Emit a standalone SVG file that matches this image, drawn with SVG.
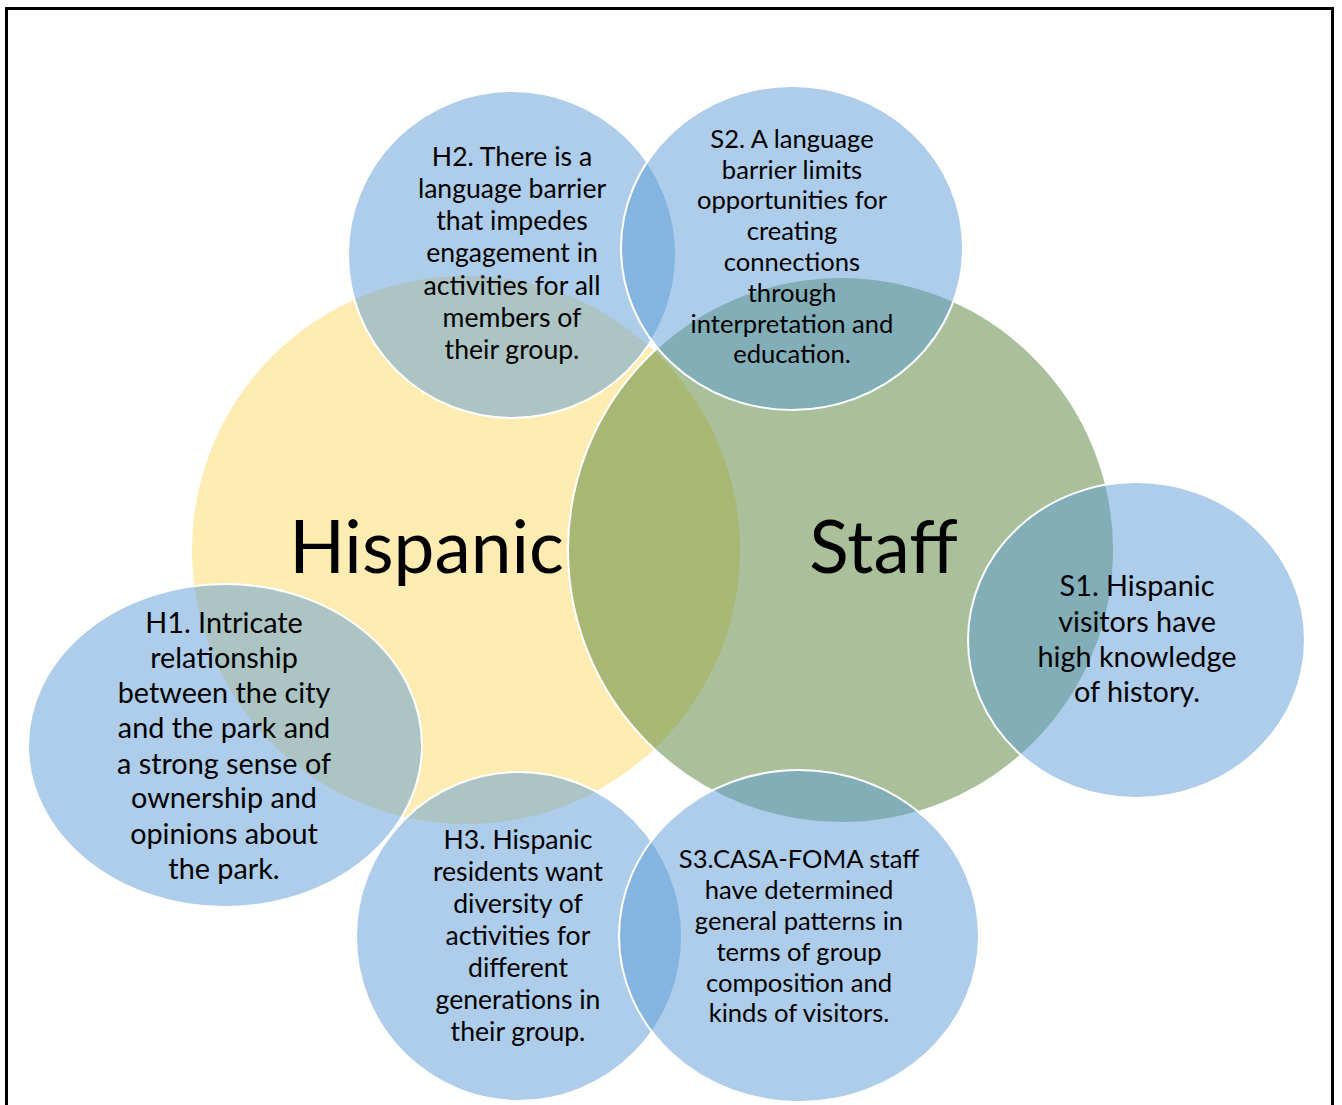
<svg xmlns="http://www.w3.org/2000/svg" width="1342" height="1105" viewBox="0 0 1342 1105">
<style>
.bg{fill:#ffffff}
.frame{fill:none;stroke:#000000;stroke-width:3}
.big-h{fill:#FFD966;fill-opacity:0.5}
.big-s{fill:#548235;fill-opacity:0.5;stroke:#ffffff;stroke-width:2}
.bub{fill:#5B9BD5;fill-opacity:0.5;stroke:#ffffff;stroke-width:2}
.t{font-family:Lato,"Liberation Sans",sans-serif;fill:#000000;text-anchor:middle}
.title{font-size:73px}
.s26{font-size:26.6px}
.s25{font-size:25.6px}
.s28{font-size:28.8px}
</style>
<rect class="bg" x="0" y="0" width="1342" height="1105"/>
<rect class="frame" x="6.5" y="8.5" width="1326" height="1110"/>
<g id="hispanic">
<circle class="big-h" cx="466" cy="550" r="274"/>
</g>
<g id="staff">
<circle class="big-s" cx="841" cy="550" r="273"/>
</g>
<g id="connectors"></g>
<g id="h2">
<ellipse class="bub" cx="512" cy="254.5" rx="164" ry="163.5"/>
<text class="t s26"><tspan x="512" y="166">H2. There is a</tspan><tspan x="512" y="198">language barrier</tspan><tspan x="512" y="230">that impedes</tspan><tspan x="512" y="262">engagement in</tspan><tspan x="512" y="295">activities for all</tspan><tspan x="512" y="327">members of</tspan><tspan x="512" y="359">their group.</tspan></text>
</g>
<g id="s2">
<ellipse class="bub" cx="792" cy="248" rx="171" ry="162"/>
<text class="t s25"><tspan x="792" y="148">S2. A language</tspan><tspan x="792" y="179">barrier limits</tspan><tspan x="792" y="209">opportunities for</tspan><tspan x="792" y="240">creating</tspan><tspan x="792" y="271">connections</tspan><tspan x="792" y="302">through</tspan><tspan x="792" y="333">interpretation and</tspan><tspan x="792" y="363">education.</tspan></text>
</g>
<g id="s1">
<ellipse class="bub" cx="1136.5" cy="640" rx="168.5" ry="158"/>
<text class="t s28"><tspan x="1137" y="596">S1. Hispanic</tspan><tspan x="1137" y="632">visitors have</tspan><tspan x="1137" y="667">high knowledge</tspan><tspan x="1137" y="702">of history.</tspan></text>
</g>
<g id="h1">
<ellipse class="bub" cx="225" cy="745.5" rx="197" ry="161.5"/>
<text class="t s28"><tspan x="224" y="633">H1. Intricate</tspan><tspan x="224" y="668">relationship</tspan><tspan x="224" y="703">between the city</tspan><tspan x="224" y="738">and the park and</tspan><tspan x="224" y="774">a strong sense of</tspan><tspan x="224" y="808">ownership and</tspan><tspan x="224" y="844">opinions about</tspan><tspan x="224" y="879">the park.</tspan></text>
</g>
<g id="h3">
<ellipse class="bub" cx="519" cy="936.5" rx="163" ry="164.5"/>
<text class="t s26"><tspan x="518" y="849">H3. Hispanic</tspan><tspan x="518" y="881">residents want</tspan><tspan x="518" y="913">diversity of</tspan><tspan x="518" y="945">activities for</tspan><tspan x="518" y="977">different</tspan><tspan x="518" y="1009">generations in</tspan><tspan x="518" y="1041">their group.</tspan></text>
</g>
<g id="s3">
<ellipse class="bub" cx="799" cy="936" rx="180" ry="166"/>
<text class="t s25"><tspan x="799" y="868">S3.CASA-FOMA staff</tspan><tspan x="799" y="899">have determined</tspan><tspan x="799" y="930">general patterns in</tspan><tspan x="799" y="961">terms of group</tspan><tspan x="799" y="992">composition and</tspan><tspan x="799" y="1022">kinds of visitors.</tspan></text>
</g>
<g id="labels">
<text class="t title" x="426.5" y="573">Hispanic</text>
<text class="t title" x="883.5" y="573">Staff</text>
</g>
</svg>
